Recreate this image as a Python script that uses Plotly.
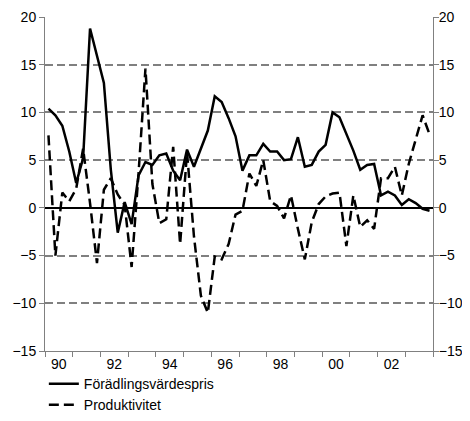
import plotly.graph_objects as go

years = list(range(1990, 2004))
quarters = [1, 2, 3, 4]
tick_years = list(range(1990, 2005))
label_years = [1990, 1992, 1994, 1996, 1998, 2000, 2002]
label_text = ["90", "92", "94", "96", "98", "00", "02"]

forad = [10.4, 9.7, 8.6, 5.9, 2.6, 5.2, 18.8, 15.8, 13.1, 4.0, -2.6, 0.6, -1.7, 3.4,
         4.8, 4.5, 5.5, 5.7, 3.9, 2.9, 6.1, 4.3, 6.2, 8.1, 11.7, 11.1, 9.4, 7.5,
         3.9, 5.5, 5.5, 6.7, 5.9, 5.9, 5.0, 5.1, 7.4, 4.3, 4.5, 5.9, 6.6, 10.0,
         9.5, 7.8, 6.0, 4.0, 4.5, 4.6, 1.3, 1.7, 1.3, 0.3, 0.9, 0.5, -0.1, -0.3]
prod = [7.6, -5.0, 1.6, 0.7, 2.0, 6.2, 0.5, -5.8, 1.9, 3.1, 1.4, 0.3, -6.2, 3.6,
        14.6, 2.5, -1.6, -1.2, 6.4, -3.8, 5.8, -3.0, -9.2, -11.0, -5.1, -5.4, -3.8, -0.7,
        -0.3, 3.6, 2.3, 5.0, 0.7, 0.2, -1.1, 1.3, -2.2, -5.4, -1.5, 0.4, 1.2, 1.5,
        1.6, -4.0, 1.3, -2.0, -1.3, -2.2, 3.1, 3.1, 4.3, 1.3, 4.6, 7.1, 9.7, 7.7]

x = [y + (q - 0.5) / 4 for y in years for q in quarters]

FONT = "Arial, Liberation Sans, sans-serif"
GRAY = "#808080"

fig = go.Figure()
fig.add_trace(go.Scatter(x=x, y=forad, mode="lines", name="Förädlingsvärdespris",
                         line=dict(color="black", width=2.5)))
fig.add_trace(go.Scatter(x=x, y=prod, mode="lines", name="Produktivitet",
                         line=dict(color="black", width=2.5, dash="10px,5px")))
fig.add_trace(go.Scatter(x=[None], y=[None], yaxis="y2", showlegend=False, hoverinfo="skip"))

fig.update_layout(
    width=454, height=405,
    margin=dict(l=37, r=29, t=9, b=62, autoexpand=False),
    paper_bgcolor="white", plot_bgcolor="white",
    font=dict(family=FONT, size=14, color="black"),
    showlegend=True,
    legend=dict(x=-0.003, xref="paper", y=0.111, yref="container",
                xanchor="left", yanchor="top",
                font=dict(family=FONT, size=14, color="black"),
                bgcolor="rgba(0,0,0,0)", tracegroupgap=0, itemwidth=30),
    xaxis=dict(range=[1990, 2004], showgrid=False, zeroline=False, automargin=False,
               showline=True, linecolor=GRAY, linewidth=1,
               tickvals=[y + 0.5 for y in label_years], ticktext=label_text,
               ticks="", tickfont=dict(size=14),
               minor=dict(tickvals=tick_years, ticks="outside", ticklen=5,
                          tickcolor=GRAY, tickwidth=1, showgrid=False)),
    yaxis=dict(range=[-15, 20], dtick=5, tick0=0, showgrid=True, gridcolor=GRAY,
               griddash="8px,4px", gridwidth=1.5, automargin=False,
               zeroline=True, zerolinecolor="black", zerolinewidth=1.5,
               showline=True, linecolor=GRAY, linewidth=1,
               ticks="outside", ticklen=5, tickcolor=GRAY, tickfont=dict(size=14)),
    yaxis2=dict(range=[-15, 20], dtick=5, tick0=0, overlaying="y", side="right",
                automargin=False, ticklabelstandoff=-3,
                showgrid=False, zeroline=False, showline=True, linecolor=GRAY, linewidth=1,
                ticks="outside", ticklen=5, tickcolor=GRAY, tickfont=dict(size=14)),
)

fig.write_html("out.html")
